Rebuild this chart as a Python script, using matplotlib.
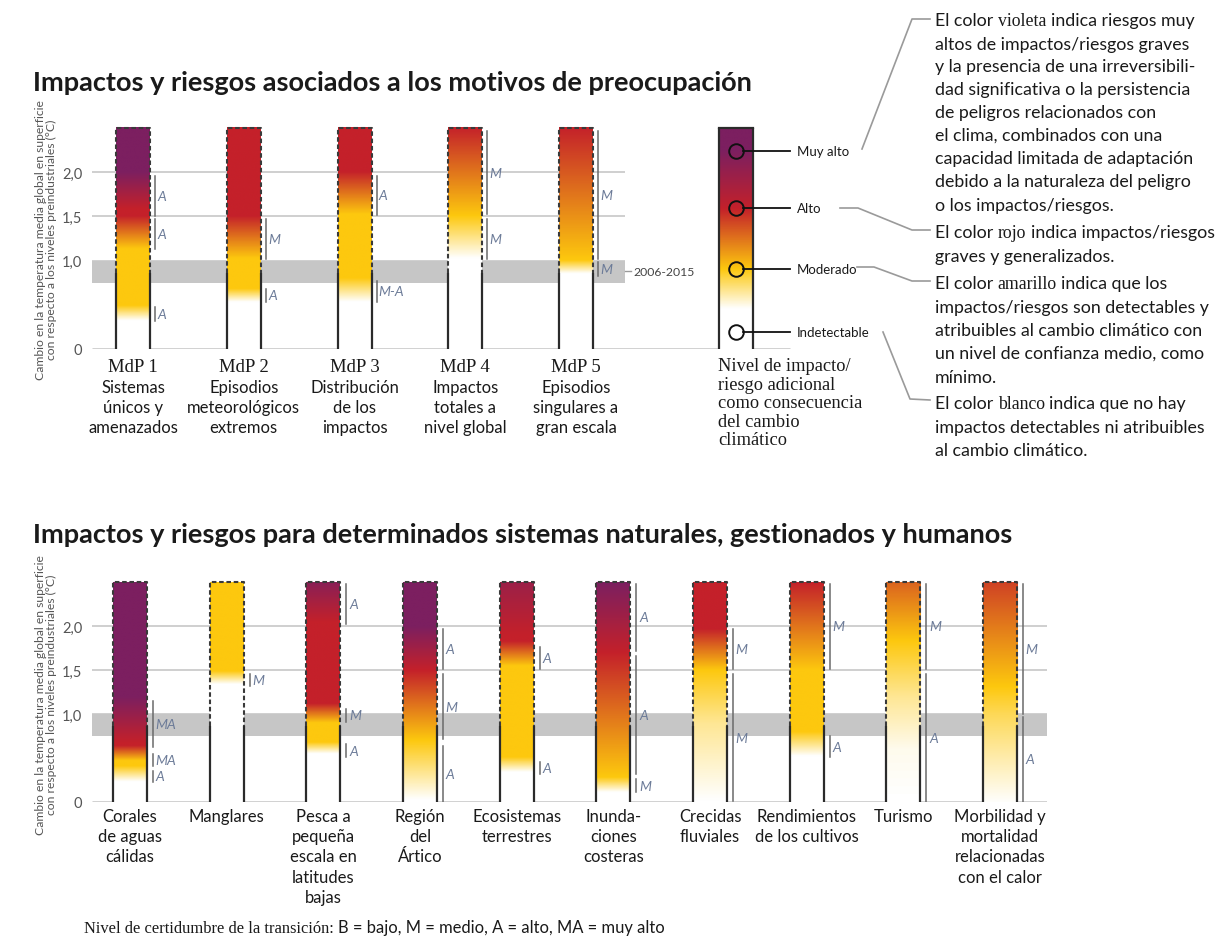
import numpy as np
import matplotlib
matplotlib.use("Agg")
import matplotlib.pyplot as plt
from matplotlib.colors import LinearSegmentedColormap
from matplotlib.lines import Line2D

SANS = "Lato"
SERIF = "Liberation Serif"

# ---- data -------------------------------------------------------------
# reasons for concern (top panel)
rfc_ids = ["MdP 1", "MdP 2", "MdP 3", "MdP 4", "MdP 5"]
rfc_names = ["Sistemas\núnicos y\namenazados",
             "Episodios\nmeteorológicos\nextremos",
             "Distribución\nde los\nimpactos",
             "Impactos\ntotales a\nnivel global",
             "Episodios\nsingulares a\ngran escala"]
# (temperature, risk level) breakpoints; 0 white, 1 yellow, 2 red, 3 purple
rfc_levels = [
    [(0, 0), (0.32, 0), (0.49, 1), (1.13, 1), (1.5, 2), (1.58, 2), (2.0, 3), (2.5, 3)],
    [(0, 0), (0.53, 0), (0.68, 1), (1.02, 1), (1.5, 2), (2.5, 2)],
    [(0, 0), (0.53, 0), (0.8, 1), (1.52, 1), (2.0, 2), (2.5, 2)],
    [(0, 0), (1.02, 0), (1.5, 1), (2.5, 2)],
    [(0, 0), (0.85, 0), (1.0, 1), (2.5, 2)],
]
rfc_conf = [
    [(0.32, 0.47, "A"), (1.13, 1.47, "A"), (1.5, 1.96, "A")],
    [(0.53, 0.68, "A"), (1.02, 1.47, "M")],
    [(0.53, 0.77, "M-A"), (1.51, 1.96, "A")],
    [(1.02, 1.47, "M"), (1.52, 2.46, "M")],
    [(0.83, 0.98, "M"), (1.02, 2.46, "M")],
]

# natural, managed and human systems (bottom panel)
sys_names = ["Corales\nde aguas\ncálidas", "Manglares",
             "Pesca a\npequeña\nescala en\nlatitudes\nbajas",
             "Región\ndel\nÁrtico", "Ecosistemas\nterrestres",
             "Inunda-\nciones\ncosteras", "Crecidas\nfluviales",
             "Rendimientos\nde los cultivos", "Turismo",
             "Morbilidad y\nmortalidad\nrelacionadas\ncon el calor"]
sys_levels = [
    [(0, 0), (0.23, 0), (0.41, 1), (0.47, 1), (0.64, 2), (0.67, 2), (1.2, 3), (2.5, 3)],
    [(0, 0), (1.34, 0), (1.49, 1), (2.5, 1)],
    [(0, 0), (0.55, 0), (0.68, 1), (0.9, 1), (1.12, 2), (2.05, 2), (2.5, 2.8)],
    [(0, 0), (0.02, 0), (0.7, 1), (1.5, 2), (2.0, 3), (2.5, 3)],
    [(0, 0), (0.34, 0), (0.51, 1), (1.55, 1), (1.83, 2), (1.9, 2), (2.5, 2.55)],
    [(0, 0), (0.11, 0), (0.28, 1), (1.7, 2), (2.5, 3)],
    [(0, 0), (0.9, 0.45), (1.5, 1), (1.97, 2), (2.5, 2)],
    [(0, 0), (0.52, 0), (0.8, 1), (1.5, 1), (2.5, 2)],
    [(0, 0), (0.6, 0.08), (1.2, 0.45), (1.83, 1), (2.5, 1.6)],
    [(0, 0.02), (0.5, 0.35), (1.0, 0.7), (1.31, 1), (2.5, 1.8)],
]
sys_conf = [
    [(0.63, 1.15, "MA"), (0.41, 0.55, "MA"), (0.23, 0.35, "A")],
    [(1.32, 1.45, "M")],
    [(2.02, 2.48, "A"), (0.91, 1.06, "M"), (0.51, 0.66, "A")],
    [(1.51, 1.97, "A"), (0.72, 1.45, "M"), (0.0, 0.64, "A")],
    [(1.51, 1.76, "A"), (0.32, 0.45, "A")],
    [(1.72, 2.48, "A"), (0.32, 1.66, "A"), (0.11, 0.26, "M")],
    [(1.51, 1.97, "M"), (0.01, 1.45, "M")],
    [(1.51, 2.48, "M"), (0.51, 0.75, "A")],
    [(1.51, 2.48, "M"), (0.0, 1.45, "A")],
    [(1.0, 2.48, "M"), (0.0, 0.97, "A")],
]

yticks = [0, 1.0, 1.5, 2.0]
ytick_labels = ["0", "1,0", "1,5", "2,0"]
band = (0.75, 1.0)
band_label = "2006-2015"
ember_top = 2.5
dash_from = 0.86

legend_levels = [(0, 0), (0.45, 0), (0.9, 1), (1.58, 2), (2.24, 3), (2.5, 3)]
legend_marks = [2.24, 1.59, 0.9, 0.19]
legend_names = ["Muy alto", "Alto", "Moderado", "Indetectable"]

ember_colors = ["#ffffff", "#fdc80e", "#c4212a", "#7c1f60"]
cmap = LinearSegmentedColormap.from_list("ember", list(zip([0, 1/3, 2/3, 1], ember_colors)))

# ---- layout helpers ------------------------------------------------------
W, H = 1231, 945
fig = plt.figure(figsize=(W / 100, H / 100), dpi=100)
fig.patch.set_facecolor("white")


def fx(x):
    return x / W


def fy(y):
    return 1 - y / H


def make_axes(left, right, y0, ppd, c0, sp):
    ax = fig.add_axes([fx(left), fy(y0), (right - left) / W, 2.6 * ppd / H])
    ax.set_xlim((left - c0) / sp, (right - c0) / sp)
    ax.set_ylim(0, 2.6)
    for s in ax.spines.values():
        s.set_visible(False)
    ax.set_xticks([])
    ax.set_yticks(yticks, ytick_labels, family=SANS, fontsize=10.5, color="#555555")
    ax.tick_params(axis="y", length=0, pad=7)
    ax.patch.set_alpha(0)
    return ax


def draw_ember(ax, x, w, pts, dashed=True):
    T = np.linspace(0, ember_top, 400)
    lev = np.interp(T, [p[0] for p in pts], [p[1] for p in pts])
    ax.imshow(lev[:, None], cmap=cmap, vmin=0, vmax=3, origin="lower", aspect="auto",
              extent=[x - w / 2, x + w / 2, 0, ember_top], interpolation="bilinear", zorder=3)
    top = dash_from if dashed else ember_top
    for xe in (x - w / 2, x + w / 2):
        ax.plot([xe, xe], [0, top], color="#2b2b2b", lw=1.6, zorder=4, solid_capstyle="butt")
    if dashed:
        ax.plot([x - w / 2, x - w / 2, x + w / 2, x + w / 2], [dash_from, ember_top, ember_top, dash_from],
                color="#3a3a3a", lw=1.5, ls=(0, (2.2, 1.3)), zorder=4)
    else:
        ax.plot([x - w / 2, x + w / 2], [ember_top, ember_top], color="#2b2b2b", lw=1.6, zorder=4)


def draw_conf(ax, x, w, gap, bars):
    xb = x + w / 2 + gap
    for lo, hi, lab in bars:
        ax.plot([xb, xb], [lo, hi], color="#6a6a6a", lw=1.1, zorder=4)
        ax.text(xb + gap * 0.45, (lo + hi) / 2, lab, family=SANS, style="italic", fontsize=10,
                color="#6c7b98", va="center", ha="left", zorder=5)


# ---- top panel -------------------------------------------------------------
c0, sp = 133, 110.75
ax1 = make_axes(92, 800, 350, 88.5, c0, sp)
xs1 = np.arange(len(rfc_ids))
w1 = 34 / sp
gx = (625 - c0) / sp
x_left1 = ax1.get_xlim()[0]
ax1.hlines(yticks[1:], x_left1, gx, color="#cfcfcf", lw=1.4, zorder=0.5)
ax1.hlines(0, x_left1, (790 - c0) / sp, color="#c4c4c4", lw=1.8, zorder=0.5)
ax1.fill_between([x_left1, gx], band[0], band[1], color="#c6c6c6", lw=0, zorder=1)
ax1.plot([gx, (631 - c0) / sp], [0.88, 0.88], color="#999999", lw=1)
ax1.text((633 - c0) / sp, 0.88, band_label, family=SANS, fontsize=8.8, color="#444444", va="center")

for i in xs1:
    draw_ember(ax1, i, w1, rfc_levels[i])
    draw_conf(ax1, i, w1, 5 / sp, rfc_conf[i])
    ax1.text(i, -0.2, rfc_ids[i], family=SERIF, fontsize=13.5, color="#1a1a1a",
             ha="center", va="center")
    ax1.text(i, -0.335, rfc_names[i], family=SANS, fontsize=12, color="#1a1a1a",
             ha="center", va="top", linespacing=1.32)

# legend bar
xl = (735.5 - c0) / sp
draw_ember(ax1, xl, w1, legend_levels, dashed=False)
r = 7.5 / sp
for t, name in zip(legend_marks, legend_names):
    ax1.plot(xl, t, "o", ms=10.5, mfc="none", mec="#111111", mew=1.4, zorder=6)
    ax1.plot([xl + r, (790 - c0) / sp], [t, t], color="#111111", lw=1.3, zorder=6)
    ax1.text((797 - c0) / sp, t, name, family=SANS, fontsize=9.5, color="#1a1a1a",
             va="center", ha="left", clip_on=False)
ax1.text((718 - c0) / sp, -0.09,
         "Nivel de impacto/\nriesgo adicional\ncomo consecuencia\ndel cambio\nclimático",
         family=SERIF, fontsize=13.2, color="#1a1a1a", ha="left", va="top", linespacing=1.12)

# ---- bottom panel -------------------------------------------------------------
c0b, spb = 130, 96.67
ax2 = make_axes(92, 1047, 803, 88.0, c0b, spb)
w2 = 34 / spb
x_left2, x_right2 = ax2.get_xlim()
ax2.hlines(yticks[1:], x_left2, x_right2, color="#cfcfcf", lw=1.4, zorder=0.5)
ax2.hlines(0, x_left2, x_right2, color="#c4c4c4", lw=1.8, zorder=0.5)
ax2.fill_between([x_left2, x_right2], band[0], band[1], color="#c6c6c6", lw=0, zorder=1)
for i in range(len(sys_names)):
    draw_ember(ax2, i, w2, sys_levels[i])
    draw_conf(ax2, i, w2, 6 / spb, sys_conf[i])
    ax2.text(i, -0.07, sys_names[i], family=SANS, fontsize=12, color="#1a1a1a",
             ha="center", va="top", linespacing=1.32)

# ---- titles, axis labels, footnote -------------------------------------------------
fig.text(fx(33), fy(83), "Impactos y riesgos asociados a los motivos de preocupación",
         family=SANS, weight="bold", fontsize=19.5, color="#1a1a1a", va="center")
fig.text(fx(33), fy(535), "Impactos y riesgos para determinados sistemas naturales, gestionados y humanos",
         family=SANS, weight="bold", fontsize=19.5, color="#1a1a1a", va="center")
ylab = "Cambio en la temperatura media global en superficie\ncon respecto a los niveles preindustriales (°C)"
for yc in (240, 695):
    fig.text(fx(46), fy(yc), ylab, family=SANS, fontsize=8.7, color="#555555", rotation=90,
             ha="center", va="center", linespacing=1.0)

rend = fig.canvas.get_renderer()


def text_width(s, fam, size):
    t = fig.text(0, 0, s, family=fam, fontsize=size)
    wd = t.get_window_extent(renderer=rend).width
    t.remove()
    return wd


def rich_line(x, y, parts, size, color="#1a1a1a"):
    sp_w = text_width("x x", SANS, size) - text_width("xx", SANS, size)
    for k, (s, fam) in enumerate(parts):
        if k:
            x += sp_w
        fig.text(fx(x), fy(y), s, family=fam, fontsize=size, color=color, va="baseline", ha="left")
        x += text_width(s, fam, size)


rich_line(84, 933, [("Nivel de certidumbre de la transición:", SERIF),
                    ("B = bajo, M = medio, A = alto, MA = muy alto", SANS)], 11.9)

para = [
    (20, [("El color", SANS), ("violeta", SERIF), ("indica riesgos muy", SANS)]),
    (44, [("altos de impactos/riesgos graves", SANS)]),
    (66, [("y la presencia de una irreversibili-", SANS)]),
    (89, [("dad significativa o la persistencia", SANS)]),
    (112, [("de peligros relacionados con", SANS)]),
    (135, [("el clima, combinados con una", SANS)]),
    (158, [("capacidad limitada de adaptación", SANS)]),
    (181, [("debido a la naturaleza del peligro", SANS)]),
    (205, [("o los impactos/riesgos.", SANS)]),
    (232, [("El color", SANS), ("rojo", SERIF), ("indica impactos/riesgos", SANS)]),
    (256, [("graves y generalizados.", SANS)]),
    (283, [("El color", SANS), ("amarillo", SERIF), ("indica que los", SANS)]),
    (307, [("impactos/riesgos son detectables y", SANS)]),
    (330, [("atribuibles al cambio climático con", SANS)]),
    (353, [("un nivel de confianza medio, como", SANS)]),
    (377, [("mínimo.", SANS)]),
    (403, [("El color", SANS), ("blanco", SERIF), ("indica que no hay", SANS)]),
    (427, [("impactos detectables ni atribuibles", SANS)]),
    (450, [("al cambio climático.", SANS)]),
]
for yy, parts in para:
    rich_line(935, yy + 6, parts, 12.8)

# leader lines from legend labels to the explanations
leaders = [
    [(862, 150), (912, 20), (930, 20)],
    [(840, 209), (858, 209), (912, 231), (930, 231)],
    [(857, 268), (874, 268), (912, 282), (930, 282)],
    [(883, 333), (910, 400), (930, 401)],
]
for pts in leaders:
    fig.add_artist(Line2D([fx(p[0]) for p in pts], [fy(p[1]) for p in pts],
                          color="#9a9a9a", lw=1.2))

fig.savefig("out.png", dpi=100)
